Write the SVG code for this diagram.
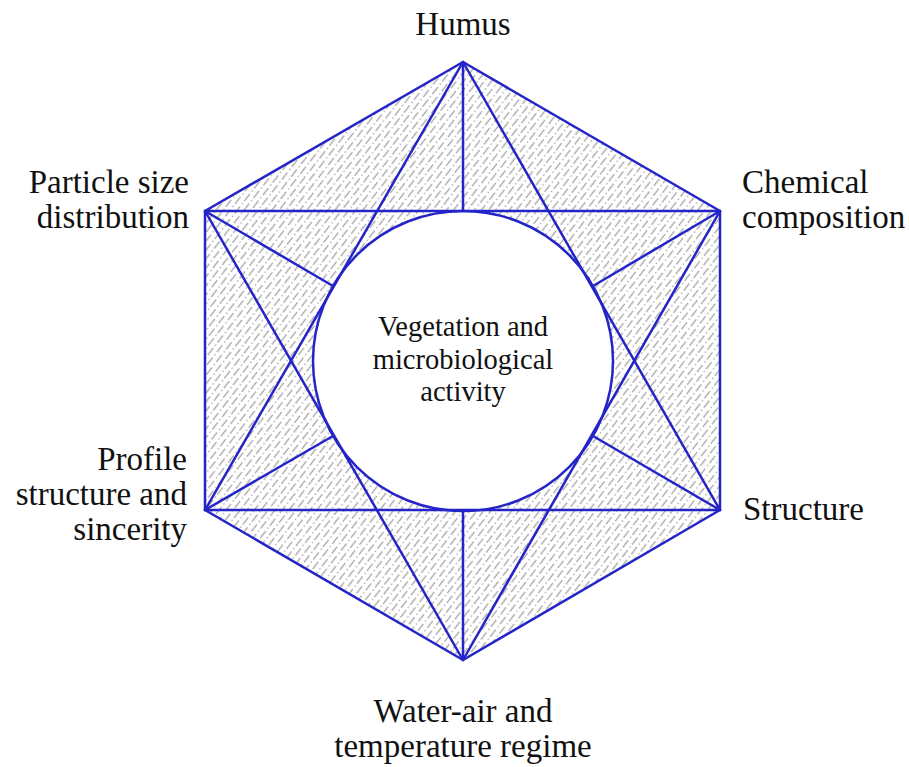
<svg xmlns="http://www.w3.org/2000/svg" width="909" height="767" viewBox="0 0 909 767">
  <style>
    .edge { stroke: #2424c8; stroke-width: 2.5; fill: none; stroke-linecap: round; stroke-linejoin: round; }
    .label { font-family: "Liberation Serif", "Times New Roman", serif; font-size: 33px; fill: #111; }
    .inner { font-family: "Liberation Serif", "Times New Roman", serif; font-size: 28.5px; fill: #111; text-anchor: middle; }
    .hatch { stroke: #8a8a8a; stroke-width: 1; fill: none; }
  </style>
  <defs>
    <!-- dash-dot hatching, rising to the right -->
    <pattern id="hatch" patternUnits="userSpaceOnUse" width="16" height="11" patternTransform="rotate(-52)">
      <line class="hatch" x1="0" y1="2.75" x2="16" y2="2.75" stroke-dasharray="9 3 1.5 2.5"/>
      <line class="hatch" x1="0" y1="8.25" x2="16" y2="8.25" stroke-dasharray="9 3 1.5 2.5" stroke-dashoffset="8"/>
    </pattern>
  </defs>

  <rect width="909" height="767" fill="#ffffff"/>

  <!-- shaded band between hexagon and central circle -->
  <path d="M463,62 L720,211 L720,510 L463,660 L205,510 L205,211 Z M463,211 A150,150 0 1,0 463,511 A150,150 0 1,0 463,211 Z"
        fill="url(#hatch)" fill-rule="evenodd"/>

  <g id="connectors">
    <!-- outer hexagon -->
    <polygon class="edge" points="463,62 720,211 720,510 463,660 205,510 205,211"/>
    <!-- horizontal chords -->
    <line class="edge" x1="205" y1="211" x2="720" y2="211"/>
    <line class="edge" x1="205" y1="510" x2="720" y2="510"/>
    <!-- star triangles -->
    <line class="edge" x1="463" y1="62" x2="205" y2="510"/>
    <line class="edge" x1="463" y1="62" x2="720" y2="510"/>
    <line class="edge" x1="463" y1="660" x2="205" y2="211"/>
    <line class="edge" x1="463" y1="660" x2="720" y2="211"/>
    <!-- spokes to the circle -->
    <line class="edge" x1="463" y1="62" x2="463" y2="211"/>
    <line class="edge" x1="463" y1="660" x2="463" y2="511"/>
    <line class="edge" x1="205" y1="211" x2="333" y2="286"/>
    <line class="edge" x1="720" y1="211" x2="593" y2="286"/>
    <line class="edge" x1="720" y1="510" x2="593" y2="436"/>
    <line class="edge" x1="205" y1="510" x2="333" y2="436"/>
  </g>

  <g id="center">
    <circle class="edge" cx="463" cy="361" r="150" fill="#ffffff"/>
    <text class="inner" x="463" y="336">Vegetation and</text>
    <text class="inner" x="463" y="369">microbiological</text>
    <text class="inner" x="463" y="401">activity</text>
  </g>

  <g id="humus">
    <text class="label" x="463" y="35" text-anchor="middle">Humus</text>
  </g>

  <g id="chemical-composition">
    <text class="label" x="742" y="193">Chemical</text>
    <text class="label" x="742" y="228">composition</text>
  </g>

  <g id="structure">
    <text class="label" x="743" y="520">Structure</text>
  </g>

  <g id="water-air">
    <text class="label" x="463" y="722" text-anchor="middle">Water-air and</text>
    <text class="label" x="463" y="757" text-anchor="middle">temperature regime</text>
  </g>

  <g id="profile-structure">
    <text class="label" x="187" y="470" text-anchor="end">Profile</text>
    <text class="label" x="187" y="505" text-anchor="end">structure and</text>
    <text class="label" x="187" y="540" text-anchor="end">sincerity</text>
  </g>

  <g id="particle-size">
    <text class="label" x="189" y="193" text-anchor="end">Particle size</text>
    <text class="label" x="189" y="228" text-anchor="end">distribution</text>
  </g>
</svg>
